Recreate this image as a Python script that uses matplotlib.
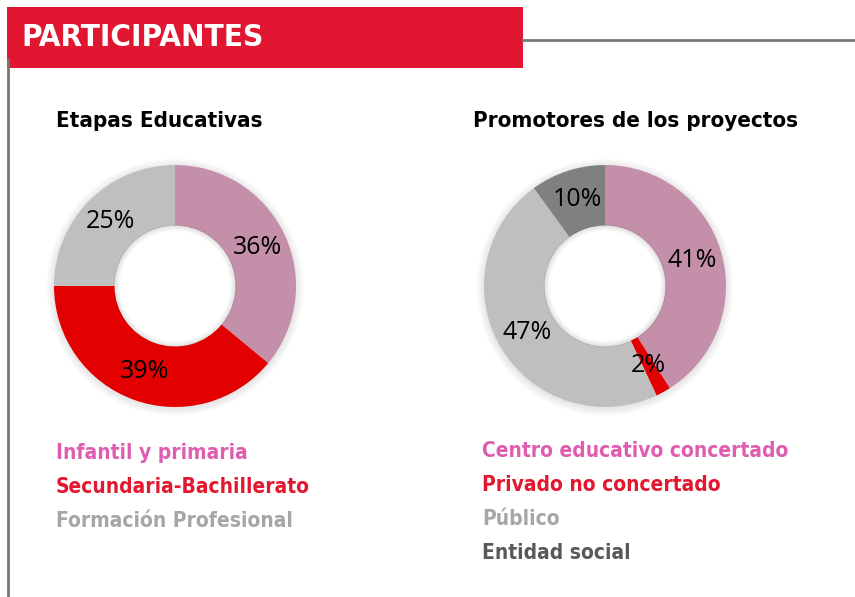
import matplotlib
matplotlib.use("Agg")
import matplotlib.pyplot as plt
from matplotlib.patches import Rectangle, Circle
from matplotlib.lines import Line2D

# ---- data ----
etapas_labels = ["Infantil y primaria", "Secundaria-Bachillerato", "Formación Profesional"]
etapas_values = [36, 39, 25]
etapas_colors = ["#C48FA8", "#E20000", "#BFBFBF"]
etapas_text_colors = ["#DE5DB0", "#E3182F", "#A6A6A6"]

prom_labels = ["Centro educativo concertado", "Privado no concertado", "Público", "Entidad social"]
prom_values = [41, 2, 47, 10]
prom_colors = ["#C48FA8", "#E20000", "#BFBFBF", "#808080"]
prom_text_colors = ["#DE5DB0", "#E3182F", "#A6A6A6", "#595959"]

header = "PARTICIPANTES"
titles = ["Etapas Educativas", "Promotores de los proyectos"]

W, H = 855, 597
fig = plt.figure(figsize=(W / 100, H / 100), dpi=100)
fig.patch.set_facecolor("white")

def fx(x):
    return x / W

def fy(y):
    return 1 - y / H

cond = dict(family="DejaVu Sans", stretch="condensed", fontweight="bold")
pct_font = ["Open Sans", "DejaVu Sans"]

# header decorations
fig.add_artist(Line2D([fx(523), fx(855)], [fy(40), fy(40)], color="#777777", lw=2))
fig.add_artist(Line2D([fx(8), fx(8)], [fy(60), fy(597)], color="#777777", lw=2))
fig.add_artist(Rectangle((fx(7), fy(68)), fx(523) - fx(7), fy(7) - fy(68),
                         facecolor="#E11731", edgecolor="none", transform=fig.transFigure))
fig.text(fx(21), fy(38), header, color="white", fontsize=22.5, va="center", ha="left", **cond)

# subtitles
fig.text(fx(56), fy(121), titles[0], color="black", fontsize=16, va="center", ha="left", **cond)
fig.text(fx(473), fy(121), titles[1], color="black", fontsize=16, va="center", ha="left", **cond)


def donut(cx, cy, values, colors):
    r = 121
    pad = 20
    ax = fig.add_axes([fx(cx - r - pad), fy(cy + r + pad), (2 * r + 2 * pad) / W, (2 * r + 2 * pad) / H])
    wedges, _, autotexts = ax.pie(values, colors=colors, startangle=90, counterclock=False,
                                  radius=1, wedgeprops=dict(width=0.5, edgecolor="none"),
                                  autopct="%d%%", pctdistance=0.75,
                                  textprops=dict(fontsize=18, color="black", family=pct_font))
    lim = (r + pad) / r
    ax.set_aspect("auto")
    ax.set_xlim(-lim, lim)
    ax.set_ylim(-lim, lim)
    ax.axis("off")
    # soft shadow glow around the ring
    for i in range(8):
        ax.add_patch(Circle((0.0, -0.01), 1 + 0.008 * (8 - i), facecolor="#000000",
                            alpha=0.012, edgecolor="none", zorder=0))
    # white hole
    ax.add_patch(Circle((0.0, 0.0), 0.5, facecolor="white", edgecolor="none", zorder=1))
    for w in wedges:
        w.set_zorder(2)
    # inner hole shadow
    for i in range(6):
        ax.add_patch(Circle((0.0, 0.0), 0.5 - 0.008 * i, facecolor="none",
                            edgecolor="#000000", lw=1.2, alpha=0.012 * (6 - i), zorder=3))
    for t in autotexts:
        t.set_zorder(4)
    return ax

donut(175, 286, etapas_values, etapas_colors)
donut(605, 286, prom_values, prom_colors)

# legends as coloured text
for i, (lab, col) in enumerate(zip(etapas_labels, etapas_text_colors)):
    fig.text(fx(56), fy(453 + 34 * i), lab, color=col, fontsize=15,
             va="center", ha="left", **cond)
for i, (lab, col) in enumerate(zip(prom_labels, prom_text_colors)):
    fig.text(fx(482), fy(451 + 34 * i), lab, color=col, fontsize=15,
             va="center", ha="left", **cond)

fig.savefig("out.png", dpi=100, facecolor="white")
